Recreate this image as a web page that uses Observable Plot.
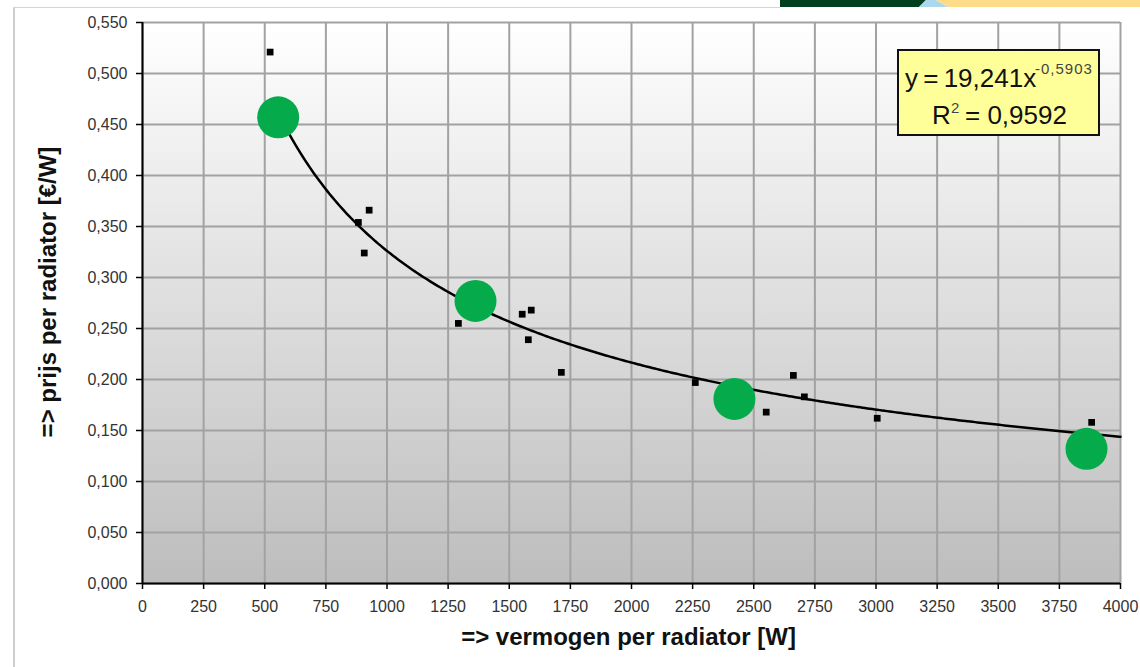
<!DOCTYPE html>
<html>
<head>
<meta charset="utf-8">
<script src="https://cdn.jsdelivr.net/npm/d3@7"></script>
<script src="https://cdn.jsdelivr.net/npm/@observablehq/plot@0.6"></script>
<style>
  body { margin: 0; background: #ffffff; font-family: "Liberation Sans", Arial, sans-serif; }
  #wrap { position: relative; width: 1140px; height: 667px; overflow: hidden; background: #fff; }
  #chart { position: absolute; left: 0; top: 0; }
  .frame-left { position: absolute; left: 13px; top: 7px; width: 2px; height: 660px; background: #cfcfcf; }
  .frame-top { position: absolute; left: 13px; top: 7px; width: 767px; height: 1px; background: #d4d4d4; }
  #banner { position: absolute; left: 0; top: 0; }
  #eq { position: absolute; left: 897px; top: 49px; width: 199px; height: 83px; background: #ffff99; border: 2px solid #111; }
  #eq span { position: absolute; white-space: nowrap; color: #111; }
  .main { font-size: 25px; line-height: 25px; }
  .sup { font-size: 15px; line-height: 15px; color: #444 !important; letter-spacing: 1px; }
</style>
</head>
<body>
<div id="wrap">
  <div id="chart"></div>
  <div class="frame-left"></div>
  <div class="frame-top"></div>
  <svg id="banner" width="1140" height="8">
    <polygon points="780,0 926,0 919,7 780,7" fill="#00401f"></polygon>
    <polygon points="919,7 926,0 936,0 948,7" fill="#acd8ee"></polygon>
    <polygon points="936,0 1140,0 1140,7 948,7" fill="#fddb88"></polygon>
  </svg>
  <div id="eq">
    <span class="main" style="left:6px; top:15px; word-spacing:-2px; font-size:26px;">y = 19,241x</span>
    <span class="sup" style="left:136px; top:10px;">-0,5903</span>
    <span class="main" style="left:33px; top:52px; font-size:26px;">R</span>
    <span class="sup" style="left:52px; top:49px;">2</span>
    <span class="main" style="left:66px; top:52px; font-size:26px;">= 0,9592</span>
  </div>
</div>
<script>
// ---- data ----
const powerW    = [522, 883, 907, 927, 1292, 1553, 1578, 1590, 1713, 2261, 2551, 2662, 2707, 3005, 3882];
const pricePerW = [0.521, 0.354, 0.324, 0.366, 0.255, 0.264, 0.239, 0.268, 0.207, 0.197, 0.168, 0.204, 0.183, 0.162, 0.158];

const highlightW     = [555, 1362, 2421, 3861];
const highlightPrice = [0.457, 0.277, 0.181, 0.132];

// power trendline as shown on the chart: y = 19,241 x^-0,5903
const trendA = 19.241;
const trendB = -0.5903;
const trendFromW = 555;
const trendToW = 4000;

const xTicks = [0, 250, 500, 750, 1000, 1250, 1500, 1750, 2000, 2250, 2500, 2750, 3000, 3250, 3500, 3750, 4000];
const yTicks = [0, 0.05, 0.1, 0.15, 0.2, 0.25, 0.3, 0.35, 0.4, 0.45, 0.5, 0.55];

const xTitle = "=> vermogen per radiator [W]";
const yTitle = "=> prijs per radiator [€/W]";

// ---- tables built from the arrays ----
const points = powerW.map((w, i) => ({w, p: pricePerW[i]}));
const highlights = highlightW.map((w, i) => ({w, p: highlightPrice[i]}));
const trend = d3.range(trendFromW, trendToW + 1, 10).concat([trendToW])
  .map(w => ({w, p: trendA * Math.pow(w, trendB)}));

const fmtY = d => d3.format(".3f")(d).replace(".", ",");

const gradientDefs = () => {
  const defs = d3.create("svg:defs");
  const g = defs.append("linearGradient").attr("id", "bgGrad")
    .attr("x1", 0).attr("y1", 0).attr("x2", 0).attr("y2", 1);
  g.append("stop").attr("offset", "0%").attr("stop-color", "#ffffff");
  g.append("stop").attr("offset", "100%").attr("stop-color", "#bdbdbd");
  return defs.node();
};

const chart = Plot.plot({
  width: 1140,
  height: 667,
  marginLeft: 142,
  marginRight: 20,
  marginTop: 22,
  marginBottom: 84,
  style: { fontFamily: "'Liberation Sans', Arial, sans-serif", background: "transparent", overflow: "visible" },
  x: { domain: [0, 4000] },
  y: { domain: [0, 0.55] },
  marks: [
    gradientDefs,
    Plot.frame({ fill: "url(#bgGrad)", stroke: null }),
    Plot.gridX(xTicks, { stroke: "#a2a2a2", strokeOpacity: 1, strokeWidth: 2 }),
    Plot.gridY(yTicks, { stroke: "#a2a2a2", strokeOpacity: 1, strokeWidth: 2 }),
    Plot.axisX(xTicks, { tickSize: 6, tickPadding: 11, stroke: "#000", strokeWidth: 1.5, fill: "#333", fontSize: 16, letterSpacing: 0.6, tickFormat: d => String(d), label: null }),
    Plot.axisY(yTicks, { tickSize: 6, tickPadding: 9, stroke: "#000", strokeWidth: 1.5, fill: "#333", fontSize: 16, letterSpacing: 0.8, tickFormat: fmtY, label: null }),
    Plot.ruleY([0], { stroke: "#000", strokeWidth: 2 }),
    Plot.ruleX([0], { stroke: "#000", strokeWidth: 2 }),
    Plot.line(trend, { x: "w", y: "p", stroke: "#000", strokeWidth: 2.5 }),
    Plot.dot(points, { x: "w", y: "p", symbol: "square", r: 3.8, fill: "#000", stroke: null }),
    Plot.dot(highlights, { x: "w", y: "p", r: 21, fill: "#05ab4a", stroke: null }),
    Plot.text([xTitle], { frameAnchor: "bottom", dx: -3, dy: 61, fontSize: 24, fontWeight: "bold", fill: "#111", letterSpacing: 1.1 }),
    Plot.text([yTitle], { frameAnchor: "left", textAnchor: "middle", lineAnchor: "middle", rotate: -90, dx: -94, dy: -11, fontSize: 24, fontWeight: "bold", fill: "#111" })
  ]
});

document.getElementById("chart").appendChild(chart);
</script>
</body>
</html>
